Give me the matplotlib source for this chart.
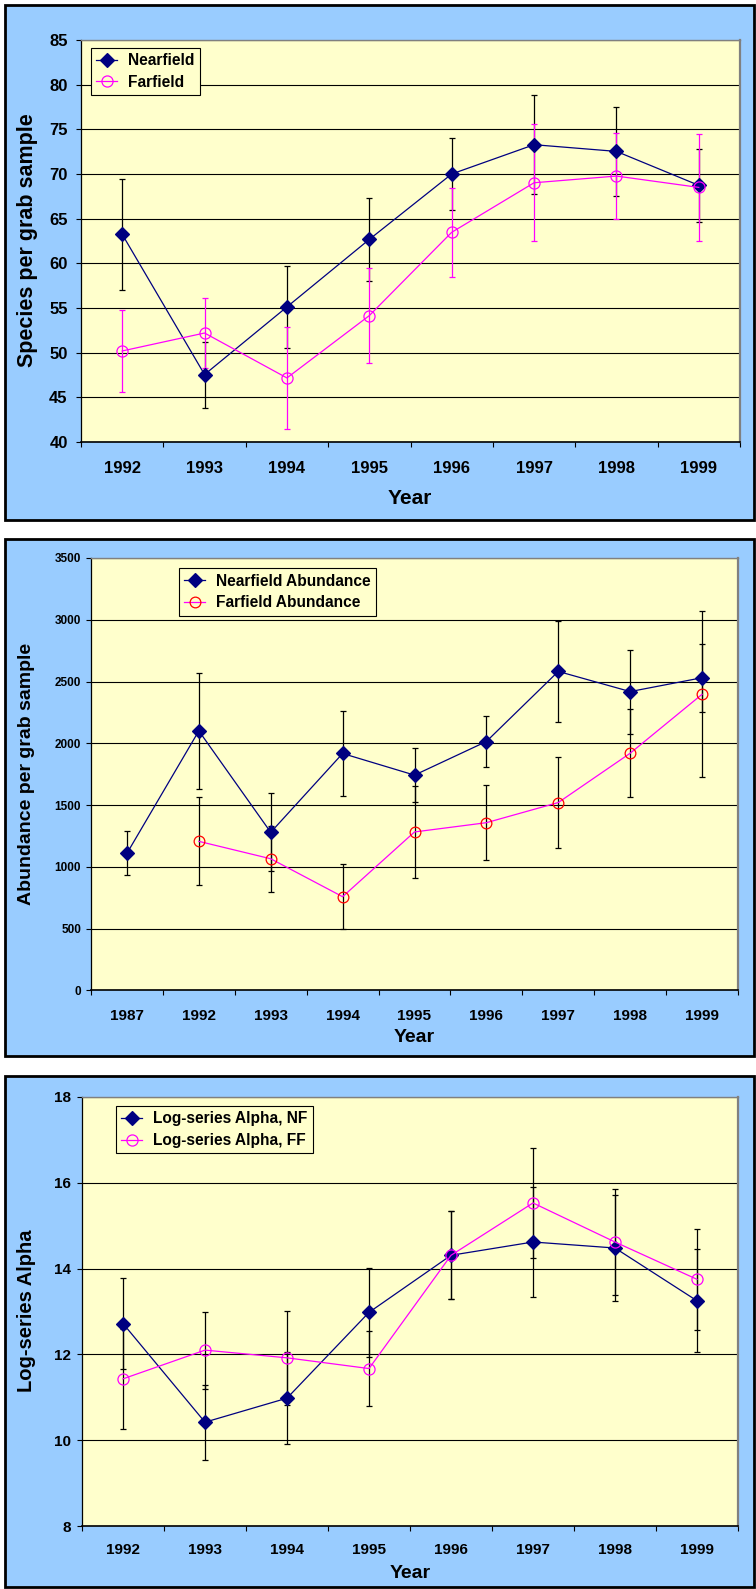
import numpy as np
import matplotlib
matplotlib.use('Agg')
import matplotlib.pyplot as plt
from matplotlib.patches import Rectangle

plt.rcParams['font.family'] = ['Liberation Sans', 'DejaVu Sans']
plt.rcParams['font.weight'] = 'bold'

# species richness per grab
years_sp = ['1992', '1993', '1994', '1995', '1996', '1997', '1998', '1999']
nf_species = [63.25, 47.55, 55.12, 62.68, 70.0, 73.28, 72.53, 68.73]
nf_species_err = [6.2, 3.7, 4.63, 4.66, 4.03, 5.56, 4.97, 4.07]
ff_species = [50.19, 52.2, 47.17, 54.15, 63.47, 69.02, 69.77, 68.5]
ff_species_err = [4.6, 3.9, 5.7, 5.35, 5.0, 6.57, 4.83, 6.0]

# abundance per grab (farfield starts 1992)
years_ab = ['1987', '1992', '1993', '1994', '1995', '1996', '1997', '1998', '1999']
nf_abund = [1110, 2101, 1280, 1918, 1743, 2015, 2582, 2419, 2531]
nf_abund_err = [178, 470, 315, 345, 220, 207, 407, 340, 277]
ff_abund = [1207, 1066, 759, 1283, 1358, 1521, 1920, 2397]
ff_abund_err = [355, 265, 264, 373, 302, 365, 355, 672]

# log-series alpha
years_al = ['1992', '1993', '1994', '1995', '1996', '1997', '1998', '1999']
nf_alpha = [12.72, 10.42, 10.98, 12.98, 14.31, 14.62, 14.48, 13.25]
nf_alpha_err = [1.06, 0.87, 1.08, 1.03, 1.03, 1.29, 1.24, 1.2]
ff_alpha = [11.43, 12.1, 11.92, 11.67, 14.31, 15.53, 14.62, 13.75]
ff_alpha_err = [1.17, 0.9, 1.1, 0.87, 1.03, 1.29, 1.24, 1.18]

W, H = 756, 1589
NAVY = '#000080'
MAG = '#FF00FF'
PANEL_BG = '#99CCFF'
PLOT_BG = '#FFFFCC'

fig = plt.figure(figsize=(W / 100, H / 100), dpi=100)


def box(x0, y0, x1, y1):
    fig.patches.append(Rectangle((x0 / W, 1 - y1 / H), (x1 - x0) / W, (y1 - y0) / H,
                                 transform=fig.transFigure, facecolor=PANEL_BG,
                                 edgecolor='black', linewidth=2.0, zorder=-5))


def make_axes(x0, y0, x1, y1):
    return fig.add_axes([x0 / W, 1 - y1 / H, (x1 - x0) / W, (y1 - y0) / H])


def style_axes(ax, labels, yticks, tick_fs, ytick_fs, xpad, ypad):
    n = len(labels)
    ax.set_facecolor(PLOT_BG)
    ax.set_xlim(-0.5, n - 0.5)
    ax.set_ylim(yticks[0], yticks[-1])
    ax.set_yticks(yticks)
    ax.set_xticks(np.arange(n + 1) - 0.5)
    ax.set_xticklabels([])
    ax.set_xticks(np.arange(n), minor=True)
    ax.set_xticklabels(labels, minor=True, fontsize=tick_fs, fontweight='bold')
    ax.tick_params(axis='x', which='major', direction='out', length=3.6, width=0.8)
    ax.tick_params(axis='x', which='minor', length=0, pad=xpad)
    ax.tick_params(axis='y', direction='out', length=3.6, width=0.8, pad=ypad,
                   labelsize=ytick_fs)
    for t in ax.get_yticklabels():
        t.set_fontweight('bold')
    ax.yaxis.grid(True, color='black', linewidth=0.8)
    ax.set_axisbelow(True)
    ax.spines['left'].set_color('black')
    ax.spines['bottom'].set_color('black')
    ax.spines['left'].set_linewidth(0.9)
    ax.spines['bottom'].set_linewidth(1.2)
    ax.spines['top'].set_color('#808080')
    ax.spines['right'].set_color('#808080')
    ax.spines['top'].set_linewidth(1.0)
    ax.spines['right'].set_linewidth(1.6)


def series(ax, x, y, err, color, ecolor, marker, mfc, mec, ms, label):
    ax.errorbar(x, y, yerr=err, fmt='none', ecolor=ecolor, elinewidth=0.9,
                capsize=2.5, capthick=0.9, zorder=3)
    ax.plot(x, y, color=color, linewidth=0.9, marker=marker, markersize=ms,
            markerfacecolor=mfc, markeredgecolor=mec, markeredgewidth=0.9,
            label=label, zorder=4)


def legend(ax, anchor):
    leg = ax.legend(loc='upper left', bbox_to_anchor=anchor, borderaxespad=0,
                    fontsize=11.2, frameon=True, fancybox=False, framealpha=1,
                    handlelength=1.35, handletextpad=0.7, borderpad=0.35,
                    labelspacing=0.42)
    leg.get_frame().set_facecolor(PLOT_BG)
    leg.get_frame().set_edgecolor('black')
    leg.get_frame().set_linewidth(0.8)
    for t in leg.get_texts():
        t.set_fontweight('bold')


# ---- panel 1: species ----
box(5, 5, 754, 520)
ax1 = make_axes(81, 40, 740, 442)
style_axes(ax1, years_sp, np.arange(40, 86, 5), 12, 12, 13.5, 6)
x = np.arange(len(years_sp))
series(ax1, x, nf_species, nf_species_err, NAVY, 'black', 'D', NAVY, NAVY, 7, 'Nearfield')
series(ax1, x, ff_species, ff_species_err, MAG, MAG, 'o', 'none', MAG, 8, 'Farfield')
legend(ax1, (0.0147, 0.981))
fig.text(410 / W, 1 - 498 / H, 'Year', ha='center', va='center', fontsize=15, fontweight='bold')
fig.text(28 / W, 1 - 240 / H, 'Species per grab sample', ha='center', va='center',
         rotation=90, fontsize=15.5, fontweight='bold')

# ---- panel 2: abundance ----
box(5, 539, 754, 1056)
ax2 = make_axes(91, 558, 738, 990.5)
style_axes(ax2, years_ab, np.arange(0, 3501, 500), 11, 8.5, 13, 3.6)
x = np.arange(len(years_ab))
series(ax2, x, nf_abund, nf_abund_err, NAVY, 'black', 'D', NAVY, NAVY, 7, 'Nearfield Abundance')
series(ax2, x[1:], ff_abund, ff_abund_err, MAG, 'black', 'o', 'none', '#FF0000', 7.7, 'Farfield Abundance')
legend(ax2, (0.136, 0.976))
fig.text(414 / W, 1 - 1038 / H, 'Year', ha='center', va='center', fontsize=14, fontweight='bold')
fig.text(26.5 / W, 1 - 774 / H, 'Abundance per grab sample', ha='center', va='center',
         rotation=90, fontsize=14, fontweight='bold')

# ---- panel 3: log-series alpha ----
box(5, 1076, 754, 1587)
ax3 = make_axes(82, 1097, 738, 1526)
style_axes(ax3, years_al, np.arange(8, 19, 2), 11, 11, 12.5, 4.3)
x = np.arange(len(years_al))
series(ax3, x, nf_alpha, nf_alpha_err, NAVY, 'black', 'D', NAVY, NAVY, 7, 'Log-series Alpha, NF')
series(ax3, x, ff_alpha, ff_alpha_err, MAG, 'black', 'o', 'none', MAG, 8, 'Log-series Alpha, FF')
legend(ax3, (0.0518, 0.979))
fig.text(410 / W, 1 - 1573 / H, 'Year', ha='center', va='center', fontsize=14, fontweight='bold')
fig.text(26.5 / W, 1 - 1311 / H, 'Log-series Alpha', ha='center', va='center',
         rotation=90, fontsize=14.5, fontweight='bold')

fig.savefig('out.png', dpi=100, facecolor='white')
